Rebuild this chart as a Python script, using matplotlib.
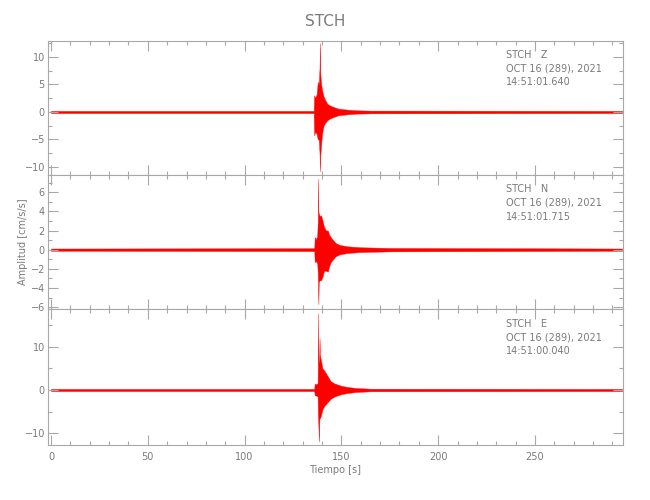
import matplotlib
matplotlib.use("Agg")
import matplotlib.pyplot as plt
from matplotlib.ticker import MultipleLocator

# envelope of each trace: time [s], upper and lower amplitude [cm/s/s]
z_time = [0, 135.7, 135.9, 136.5, 137.2, 137.8, 138.3, 138.7, 138.9, 139.1, 139.5, 140.0,
          140.8, 141.6, 142.7, 144.0, 146.0, 148.5, 151.0, 154.0, 158.0, 165.0, 295]
z_upper = [0.2, 0.2, 3.0, 2.6, 3.2, 5.5, 5.0, 8.0, 12.5, 7.0, 5.2, 4.0,
           2.8, 2.2, 1.5, 1.2, 0.9, 0.6, 0.5, 0.4, 0.3, 0.25, 0.2]
z_lower = [-0.2, -0.2, -4.2, -3.6, -4.0, -5.0, -5.0, -7.5, -10.8, -8.0, -6.0, -4.0,
           -2.5, -2.0, -1.5, -1.2, -0.9, -0.6, -0.5, -0.4, -0.3, -0.25, -0.2]

n_time = [0, 136.0, 136.2, 136.8, 137.5, 137.8, 137.9, 138.1, 138.3, 138.8, 139.5, 140.3,
          141.0, 142.0, 143.0, 143.6, 144.5, 145.3, 147.0, 149.0, 153.0, 160.0, 175.0, 295]
n_upper = [0.12, 0.15, 1.3, 1.1, 1.4, 3.0, 7.4, 4.0, 3.8, 3.5, 3.6, 3.0,
           2.4, 2.0, 2.0, 1.6, 1.3, 1.1, 0.7, 0.5, 0.35, 0.25, 0.18, 0.12]
n_lower = [-0.12, -0.15, -1.3, -1.2, -1.4, -2.5, -3.5, -5.7, -3.4, -3.2, -3.2, -2.8,
           -2.2, -2.2, -2.3, -1.8, -1.3, -1.1, -0.7, -0.5, -0.35, -0.25, -0.18, -0.12]

e_time = [0, 136.0, 136.2, 137.0, 137.7, 137.8, 137.9, 138.1, 138.4, 138.6, 138.7, 138.9,
          139.4, 140.2, 141.0, 142.5, 144.5, 146.5, 149.7, 153.0, 158.0, 165.0, 295]
e_upper = [0.25, 0.25, 1.5, 1.3, 1.6, 5.0, 17.7, 6.0, 7.0, 9.0, 12.0, 8.0,
           7.0, 5.0, 4.6, 3.5, 2.0, 1.5, 1.0, 0.7, 0.45, 0.3, 0.25]
e_lower = [-0.25, -0.25, -1.2, -1.3, -1.5, -4.0, -6.0, -8.0, -11.9, -7.5, -6.5, -6.5,
           -6.0, -4.5, -3.8, -3.0, -2.0, -1.5, -1.0, -0.7, -0.45, -0.3, -0.25]

channels = ["Z", "N", "E"]
start_times = ["14:51:01.640", "14:51:01.715", "14:51:00.040"]
date_label = "OCT 16 (289), 2021"
station = "STCH"

y_limits = [(-11.45, 12.95), (-6.2, 7.8), (-12.7, 18.7)]
y_major = [5, 2, 10]
y_minor = [2.5, 1, 5]

AXIS_GRAY = "#a8a8a8"
TEXT_GRAY = "#7a7a7a"


def style_axis(ax, ylim, major, minor, show_x_labels):
    """
    Give a panel the look of the IDL plot: inward ticks on all four sides, gray frame.
    """
    ax.set_xlim(-1.7, 295.6)
    ax.set_ylim(*ylim)
    ax.xaxis.set_major_locator(MultipleLocator(50))
    ax.xaxis.set_minor_locator(MultipleLocator(10))
    ax.yaxis.set_major_locator(MultipleLocator(major))
    ax.yaxis.set_minor_locator(MultipleLocator(minor))
    ax.tick_params(which="both", direction="in", top=True, right=True,
                   color=AXIS_GRAY, labelcolor=TEXT_GRAY, labelsize=7, width=0.8)
    ax.tick_params(which="major", length=7)
    ax.tick_params(which="minor", length=3.2)
    ax.tick_params(axis="y", pad=2)
    ax.tick_params(axis="x", pad=5)
    if not show_x_labels:
        ax.tick_params(axis="x", labelbottom=False)
    for spine in ax.spines.values():
        spine.set_color(AXIS_GRAY)
        spine.set_linewidth(0.8)


def plot_seismogram():
    traces = [(z_time, z_upper, z_lower), (n_time, n_upper, n_lower), (e_time, e_upper, e_lower)]

    fig = plt.figure(figsize=(6.5, 5), dpi=100)
    boxes = [(0.0734, 0.650, 0.8855, 0.2686),
             (0.0734, 0.382, 0.8855, 0.268),
             (0.0734, 0.110, 0.8855, 0.272)]

    axes = []
    for i, (t, up, lo) in enumerate(traces):
        ax = fig.add_axes(boxes[i])
        ax.fill_between(t, lo, up, color="#ff0000", linewidth=0.3, edgecolor="#ff1010")
        style_axis(ax, y_limits[i], y_major[i], y_minor[i], i == 2)
        ax.text(0.797, 0.93, f"{station}   {channels[i]}\n{date_label}\n{start_times[i]}",
                transform=ax.transAxes, ha="left", va="top", fontsize=7,
                color=TEXT_GRAY, linespacing=1.45)
        axes.append(ax)

    fig.text(0.5, 0.958, station, ha="center", va="center", fontsize=11, color=TEXT_GRAY)
    axes[2].set_xlabel("Tiempo [s]", fontsize=7, color=TEXT_GRAY, labelpad=2)
    axes[1].set_ylabel("Amplitud [cm/s/s]", fontsize=7, color=TEXT_GRAY, labelpad=2)

    fig.savefig("out.png", dpi=100)


def main():
    plot_seismogram()


if __name__ == "__main__":
    main()
